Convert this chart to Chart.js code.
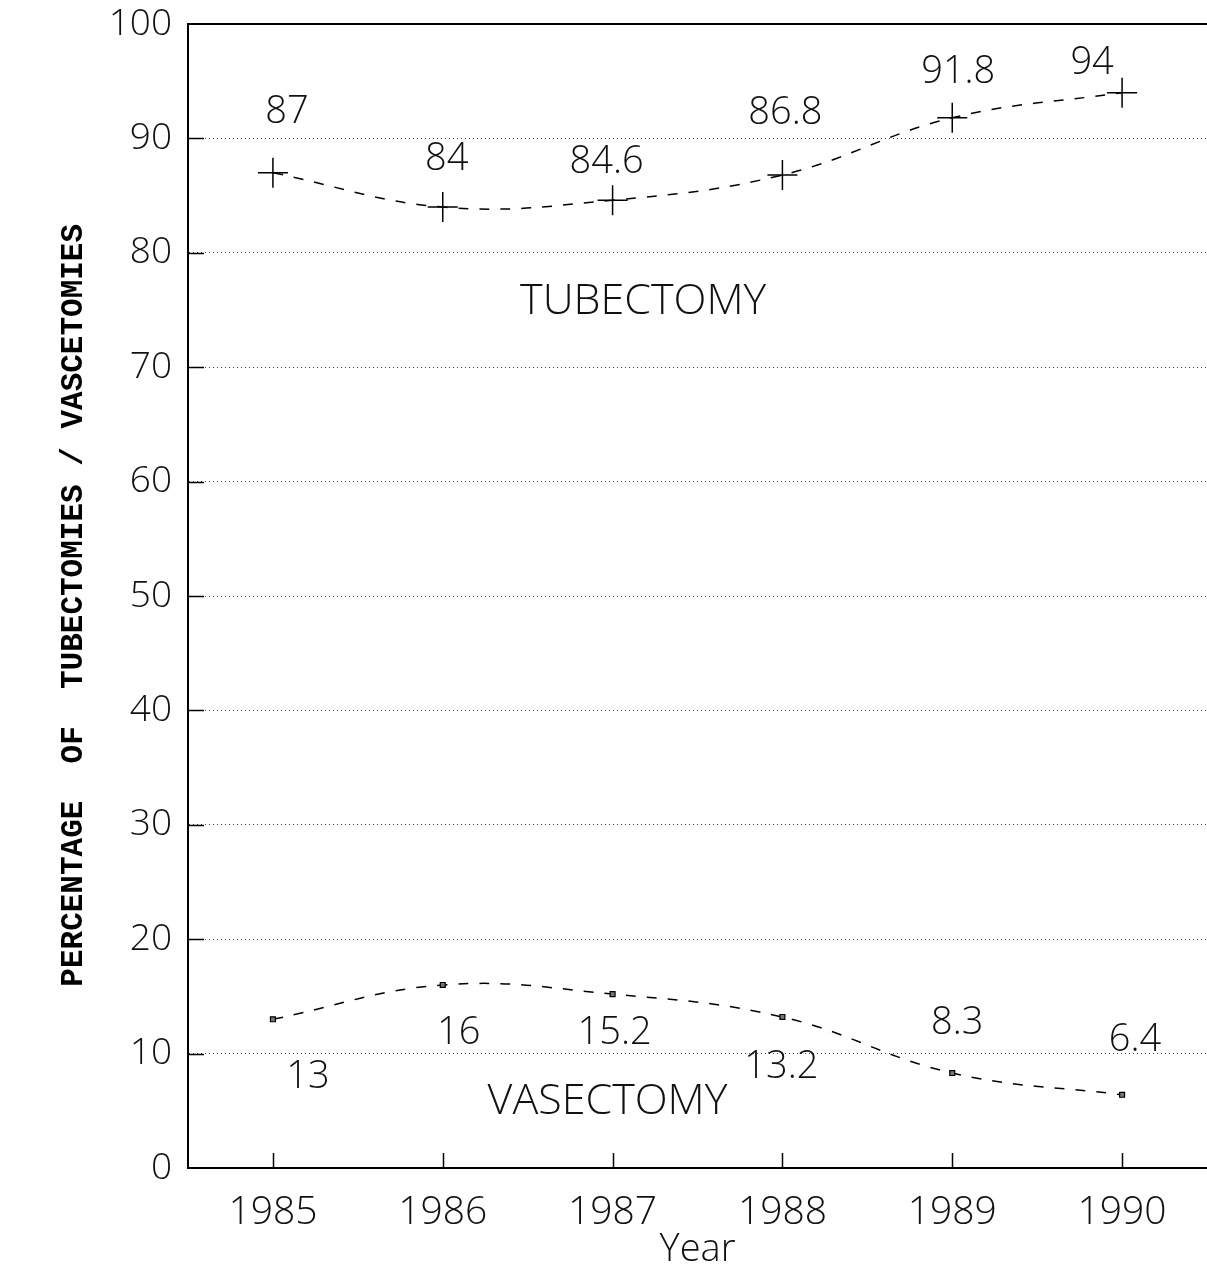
<!DOCTYPE html>
<html><head><meta charset="utf-8">
<script src="https://cdn.jsdelivr.net/npm/chart.js@4/dist/chart.umd.min.js"></script>
<style>
html,body{margin:0;padding:0;background:#fff;overflow:hidden;width:1207px;height:1273px}
#wrap{position:absolute;left:0;top:0;width:1207px;height:1273px}
</style>
</head><body>
<div id="wrap"><canvas id="c"></canvas></div>
<script>
// ---- data ----
const years = ['1985', '1986', '1987', '1988', '1989', '1990'];
const tubectomy = [87, 84, 84.6, 86.8, 91.8, 94];
const vasectomy = [13, 16, 15.2, 13.2, 8.3, 6.4];
const tubectomyLabels = ['87', '84', '84.6', '86.8', '91.8', '94'];
const vasectomyLabels = ['13', '16', '15.2', '13.2', '8.3', '6.4'];
const yTickValues = [0, 10, 20, 30, 40, 50, 60, 70, 80, 90, 100];
const seriesNames = ['TUBECTOMY', 'VASECTOMY'];
const yTitle = 'PERCENTAGE  OF  TUBECTOMIES / VASCETOMIES ';
const xTitle = 'Year';

const FONT = '"Open Sans", "Liberation Sans", sans-serif';

const annotPlugin = {
  id: 'annot',
  afterDatasetsDraw(chart, args, opts) {
    const ctx = chart.ctx;
    const xs = chart.scales.x, ys = chart.scales.y;
    const area = chart.chartArea;
    ctx.save();
    ctx.fillStyle = '#111';
    ctx.textAlign = 'center';
    ctx.textBaseline = 'middle';
    // value labels
    ctx.font = '300 38px ' + FONT;
    chart.data.datasets.forEach((ds, di) => {
      const meta = chart.getDatasetMeta(di);
      meta.data.forEach((pt, i) => {
        const off = opts.offsets[di][i];
        ctx.fillText(ds.valueLabels[i], pt.x + off[0], pt.y + off[1]);
      });
    });
    // series names
    ctx.font = '300 43px ' + FONT;
    opts.names.forEach(n => {
      ctx.fillText(n.text, xs.getPixelForValue(n.at[0]), ys.getPixelForValue(n.at[1]));
    });
    // inward tick marks
    ctx.strokeStyle = '#000';
    ctx.lineWidth = 1.5;
    ctx.beginPath();
    ys.ticks.forEach(t => {
      if (t.value === 0 || t.value === 100) return;
      const py = Math.round(ys.getPixelForValue(t.value)) + 0.5;
      ctx.moveTo(area.left, py); ctx.lineTo(area.left + 16, py);
    });
    xs.ticks.forEach((t, i) => {
      const px = Math.round(xs.getPixelForTick(i)) + 0.5;
      ctx.moveTo(px, area.bottom); ctx.lineTo(px, area.bottom - 15);
    });
    ctx.stroke();
    ctx.restore();
  }
};

function zeroPad(s) { s.paddingTop = 0; s.paddingBottom = 0; s.paddingLeft = 0; s.paddingRight = 0; }

new Chart(document.getElementById('c'), {
  type: 'line',
  data: {
    labels: years,
    datasets: [
      {
        label: seriesNames[0],
        data: tubectomy,
        valueLabels: tubectomyLabels,
        borderColor: '#000',
        borderWidth: 1.5,
        borderDash: [10, 11],
        tension: 0.4,
        fill: false,
        clip: false,
        pointStyle: 'cross',
        pointRadius: 15,
        pointBorderWidth: 1.5,
        pointBorderColor: '#000',
        pointBackgroundColor: '#000'
      },
      {
        label: seriesNames[1],
        data: vasectomy,
        valueLabels: vasectomyLabels,
        borderColor: '#000',
        borderWidth: 1.5,
        borderDash: [10, 11],
        tension: 0.4,
        fill: false,
        clip: false,
        pointStyle: 'rect',
        pointRadius: 3.5,
        pointBorderWidth: 1.2,
        pointBorderColor: '#000',
        pointBackgroundColor: '#777'
      }
    ]
  },
  options: {
    responsive: true,
    maintainAspectRatio: false,
    animation: false,
    devicePixelRatio: 1,
    layout: { autoPadding: false, padding: { top: 24, left: 56, right: 0, bottom: 0 } },
    plugins: {
      legend: { display: false },
      tooltip: { enabled: false },
      annot: {
        offsets: [
          [[14, -61], [4, -48], [-6, -38], [3, -62], [6, -46], [-30, -29]],
          [[35, 58], [16, 48], [2, 39], [-1, 50], [5, -50], [13, -55]]
        ],
        names: [
          { text: seriesNames[0], at: [2.18, 75.7] },
          { text: seriesNames[1], at: [1.97, 5.8] }
        ]
      }
    },
    scales: {
      x: {
        type: 'category',
        position: 'bottom',
        offset: true,
        grid: { display: false, drawTicks: false },
        border: { display: true, color: '#000', width: 2 },
        ticks: {
          color: '#111',
          padding: 21,
          maxRotation: 0,
          autoSkip: false,
          font: { family: FONT, size: 39, weight: '300' }
        },
        title: {
          display: true,
          text: xTitle,
          color: '#111',
          padding: { top: 0, bottom: 0 },
          font: { family: FONT, size: 38, weight: '300' }
        },
        afterFit(s) { s.height = 105; zeroPad(s); }
      },
      xTop: {
        type: 'category',
        position: 'top',
        offset: true,
        grid: { display: false, drawTicks: false },
        border: { display: true, color: '#000', width: 2 },
        ticks: { display: false },
        afterFit(s) { s.height = 0; zeroPad(s); }
      },
      y: {
        type: 'linear',
        min: 0,
        max: 100,
        afterBuildTicks(s) { s.ticks = yTickValues.map(v => ({ value: v })); },
        grid: {
          drawTicks: false,
          lineWidth: 1,
          color: (c) => (c.tick && (c.tick.value === 0 || c.tick.value === 100)) ? 'rgba(0,0,0,0)' : '#444'
        },
        border: { display: true, color: '#000', width: 2, dash: [1, 3] },
        ticks: {
          color: '#111',
          padding: 16,
          font: { family: FONT, size: 37, weight: '300' }
        },
        title: {
          display: true,
          text: yTitle,
          color: '#000',
          padding: { top: 0, bottom: 0 },
          font: { family: '"Liberation Mono", "DejaVu Sans Mono", monospace', size: 31, weight: 'bold' }
        },
        afterFit(s) { s.width = 132; zeroPad(s); }
      }
    }
  },
  plugins: [annotPlugin]
});
</script>
</body></html>
